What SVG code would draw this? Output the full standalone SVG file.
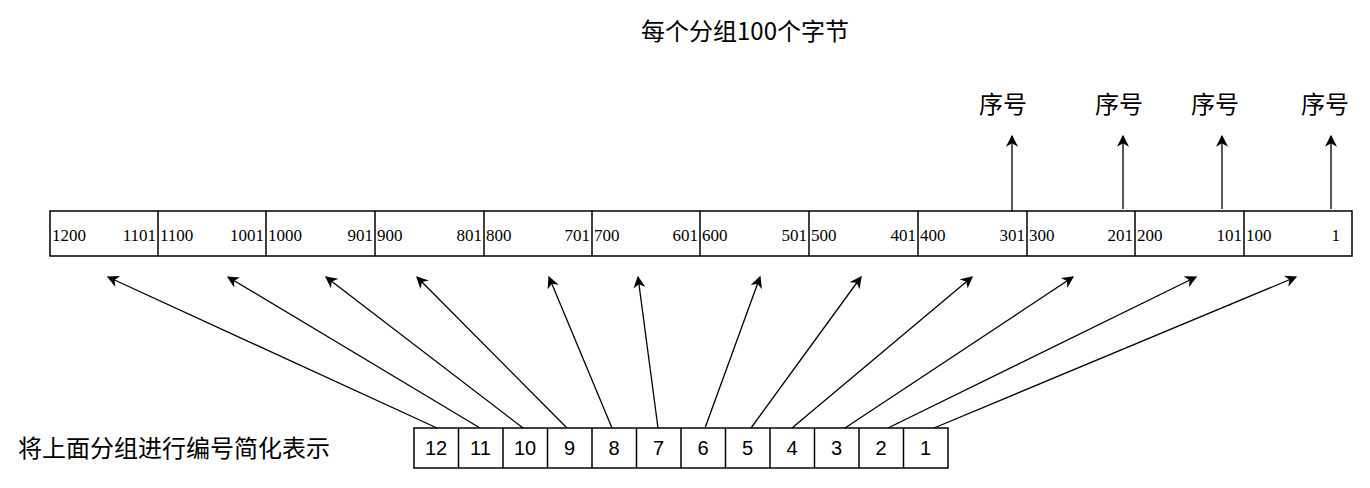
<svg xmlns="http://www.w3.org/2000/svg" width="1370" height="488" viewBox="0 0 1370 488">
<style>
.c{fill:#fff;stroke:#000;stroke-width:1.5}
.n{font-family:"Liberation Serif",serif;font-size:17px}
.b{font-family:"Liberation Sans",sans-serif;font-size:20px;text-anchor:middle}
.z{font-family:"Noto Sans CJK SC",sans-serif;font-size:24px}
.a{stroke:#000;stroke-width:1.3;fill:none;marker-end:url(#ah)}
</style>
<defs><marker id="ah" viewBox="0 0 10 10" refX="9" refY="5" markerWidth="12" markerHeight="12" markerUnits="userSpaceOnUse" orient="auto"><path d="M0,0 L10,5 L0,10 L3,5 Z" fill="#000"/></marker></defs>
<rect width="1370" height="488" fill="#fff"/>
<text class="z" x="745" y="40" text-anchor="middle">每个分组100个字节</text>
<g id="bar">
<rect class="c" x="50" y="211" width="1302" height="45"/>
<g stroke="#000" stroke-width="1.5">
<line x1="158" y1="211" x2="158" y2="256"/><line x1="266" y1="211" x2="266" y2="256"/><line x1="375" y1="211" x2="375" y2="256"/><line x1="484" y1="211" x2="484" y2="256"/><line x1="592" y1="211" x2="592" y2="256"/><line x1="700" y1="211" x2="700" y2="256"/><line x1="809" y1="211" x2="809" y2="256"/><line x1="918" y1="211" x2="918" y2="256"/><line x1="1027" y1="211" x2="1027" y2="256"/><line x1="1135" y1="211" x2="1135" y2="256"/><line x1="1244" y1="211" x2="1244" y2="256"/>
</g>
<g class="n">
<text x="52" y="241">1200</text><text x="156" y="241" text-anchor="end">1101</text>
<text x="160" y="241">1100</text><text x="264" y="241" text-anchor="end">1001</text>
<text x="268" y="241">1000</text><text x="373" y="241" text-anchor="end">901</text>
<text x="377" y="241">900</text><text x="482" y="241" text-anchor="end">801</text>
<text x="486" y="241">800</text><text x="590" y="241" text-anchor="end">701</text>
<text x="594" y="241">700</text><text x="698" y="241" text-anchor="end">601</text>
<text x="702" y="241">600</text><text x="807" y="241" text-anchor="end">501</text>
<text x="811" y="241">500</text><text x="916" y="241" text-anchor="end">401</text>
<text x="920" y="241">400</text><text x="1025" y="241" text-anchor="end">301</text>
<text x="1029" y="241">300</text><text x="1133" y="241" text-anchor="end">201</text>
<text x="1137" y="241">200</text><text x="1242" y="241" text-anchor="end">101</text>
<text x="1246" y="241">100</text><text x="1340" y="241" text-anchor="end">1</text>
</g>
</g>
<g id="labels" class="z" text-anchor="middle">
<text x="1003" y="113">序号</text><text x="1119" y="113">序号</text><text x="1215" y="113">序号</text><text x="1325" y="113">序号</text>
</g>
<text id="left-label" class="z" x="18" y="457">将上面分组进行编号简化表示</text>
<g id="boxes">
<rect class="c" x="414" y="428" width="534" height="40"/>
<g stroke="#000" stroke-width="1.5">
<line x1="458.5" y1="428" x2="458.5" y2="468"/><line x1="503" y1="428" x2="503" y2="468"/><line x1="547.5" y1="428" x2="547.5" y2="468"/><line x1="592" y1="428" x2="592" y2="468"/><line x1="636.5" y1="428" x2="636.5" y2="468"/><line x1="681" y1="428" x2="681" y2="468"/><line x1="725.5" y1="428" x2="725.5" y2="468"/><line x1="770" y1="428" x2="770" y2="468"/><line x1="814.5" y1="428" x2="814.5" y2="468"/><line x1="859" y1="428" x2="859" y2="468"/><line x1="903.5" y1="428" x2="903.5" y2="468"/>
</g>
<g class="b">
<text x="436" y="455">12</text><text x="480.5" y="455">11</text><text x="525" y="455">10</text><text x="569.5" y="455">9</text><text x="614" y="455">8</text><text x="658.5" y="455">7</text><text x="703" y="455">6</text><text x="747.5" y="455">5</text><text x="792" y="455">4</text><text x="836.5" y="455">3</text><text x="881" y="455">2</text><text x="925.5" y="455">1</text>
</g>
</g>
<g id="connectors">
<line class="a" x1="437" y1="428" x2="108" y2="277"/>
<line class="a" x1="480" y1="428" x2="228" y2="277"/>
<line class="a" x1="523" y1="428" x2="326" y2="277"/>
<line class="a" x1="567" y1="428" x2="417" y2="277"/>
<line class="a" x1="612" y1="428" x2="549" y2="277"/>
<line class="a" x1="658" y1="428" x2="638" y2="277"/>
<line class="a" x1="705" y1="428" x2="760" y2="277"/>
<line class="a" x1="751" y1="428" x2="861" y2="277"/>
<line class="a" x1="792" y1="428" x2="972" y2="277"/>
<line class="a" x1="845" y1="428" x2="1073" y2="277"/>
<line class="a" x1="888" y1="428" x2="1196" y2="277"/>
<line class="a" x1="934" y1="428" x2="1296" y2="277"/>
<line class="a" x1="1012" y1="211" x2="1012" y2="136"/>
<line class="a" x1="1123" y1="209" x2="1123" y2="136"/>
<line class="a" x1="1222" y1="209" x2="1222" y2="136"/>
<line class="a" x1="1331" y1="209" x2="1331" y2="136"/>
</g>
</svg>
